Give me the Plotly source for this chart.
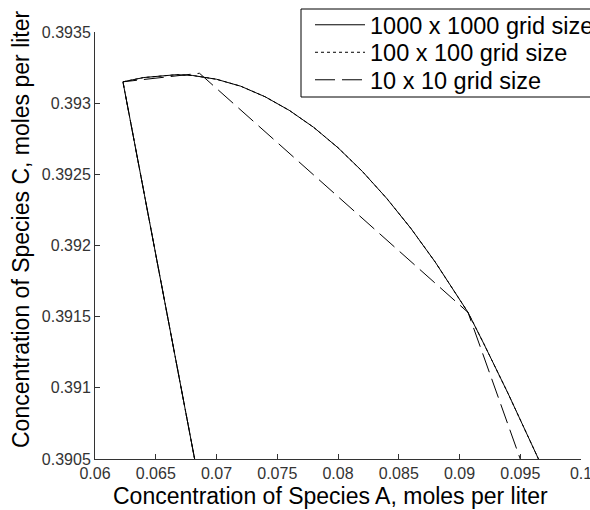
import plotly.graph_objects as go

# ---- data ----
x_fine = [0.0682, 0.0623, 0.064, 0.0667, 0.068, 0.070, 0.072, 0.074, 0.076, 0.078,
          0.080, 0.082, 0.084, 0.086, 0.088, 0.090, 0.0907, 0.092, 0.094, 0.0965]
y_fine = [0.3905, 0.39315, 0.39318, 0.39320, 0.393195, 0.393168, 0.393119, 0.393045,
          0.392949, 0.392830, 0.392687, 0.392521, 0.392332, 0.392120, 0.391884,
          0.391625, 0.39153, 0.39131, 0.39096, 0.3905]

x_mid = [0.0682, 0.0623, 0.064, 0.0667, 0.068, 0.070, 0.072, 0.074, 0.076, 0.078,
         0.080, 0.082, 0.084, 0.086, 0.088, 0.090, 0.0907, 0.092, 0.094, 0.0965]
y_mid = [0.3905, 0.39315, 0.39318, 0.39320, 0.393195, 0.393168, 0.393119, 0.393045,
         0.392949, 0.392830, 0.392687, 0.392521, 0.392332, 0.392120, 0.391884,
         0.391625, 0.39153, 0.39131, 0.39096, 0.3905]

x_coarse = [0.0682, 0.0623, 0.0686, 0.0907, 0.0950]
y_coarse = [0.3905, 0.39315, 0.39321, 0.39153, 0.3905]

series_names = ["1000 x 1000 grid size", "100 x 100 grid size", "10 x 10 grid size"]

x_tickvals = [0.06, 0.065, 0.07, 0.075, 0.08, 0.085, 0.09, 0.095, 0.1]
x_ticktext = ["0.06", "0.065", "0.07", "0.075", "0.08", "0.085", "0.09", "0.095", "0.1"]
y_tickvals = [0.3905, 0.391, 0.3915, 0.392, 0.3925, 0.393, 0.3935]
y_ticktext = ["0.3905", "0.391", "0.3915", "0.392", "0.3925", "0.393", "0.3935"]

x_title = "Concentration of Species A, moles per liter"
y_title = "Concentration of Species C, moles per liter"

FONT = "Liberation Sans, Arial, sans-serif"

L, R, T, B = 95, 9, 32, 51
W, H = 590, 510
pw, ph = W - L - R, H - T - B


def px_x(p):
    return (p - L) / pw


def px_y(p):
    return (H - B - p) / ph


fig = go.Figure()
fig.add_trace(go.Scatter(x=x_fine, y=y_fine, mode="lines", name=series_names[0],
                         legend="legend",
                         line=dict(color="black", width=1)))
fig.add_trace(go.Scatter(x=x_mid, y=y_mid, mode="lines", name=series_names[1],
                         legend="legend2",
                         line=dict(color="black", width=1, dash="3px,3px")))
fig.add_trace(go.Scatter(x=x_coarse, y=y_coarse, mode="lines", name=series_names[2],
                         legend="legend3",
                         line=dict(color="black", width=1, dash="20px,7px")))

leg_common = dict(x=px_x(310), xanchor="left", yanchor="middle",
                  borderwidth=0, bgcolor="rgba(0,0,0,0)",
                  font=dict(size=23.5, family=FONT, color="black"),
                  itemwidth=50)

fig.update_layout(
    width=W, height=H,
    margin=dict(l=L, r=R, t=T, b=B, autoexpand=False),
    paper_bgcolor="white", plot_bgcolor="white",
    font=dict(family=FONT, color="black"),
    showlegend=True,
    legend=dict(y=px_y(25), **leg_common),
    legend2=dict(y=px_y(52.5), **leg_common),
    legend3=dict(y=px_y(80), **leg_common),
    shapes=[dict(type="rect", xref="paper", yref="paper",
                 x0=px_x(301), x1=px_x(600), y0=px_y(97), y1=px_y(9),
                 line=dict(color="black", width=1), fillcolor="white", layer="above")],
    xaxis=dict(
        range=[0.06, 0.1], tickvals=x_tickvals, ticktext=x_ticktext,
        ticks="inside", ticklen=5, tickcolor="#333", showline=True, linecolor="#333",
        linewidth=1, showgrid=False, zeroline=False, mirror=False,
        ticklabeloverflow="allow",
        tickfont=dict(size=16, family=FONT, color="#333"),
    ),
    yaxis=dict(
        range=[0.3905, 0.3935], tickvals=y_tickvals, ticktext=y_ticktext,
        ticks="inside", ticklen=5, tickcolor="#333", showline=True, linecolor="#333",
        linewidth=1, showgrid=False, zeroline=False, mirror=False,
        ticklabeloverflow="allow",
        tickfont=dict(size=16, family=FONT, color="#333"),
    ),
    annotations=[
        dict(text=x_title, xref="paper", yref="paper", x=px_x(330),
             y=px_y(496), xanchor="center", yanchor="middle",
             showarrow=False, font=dict(size=23, family=FONT, color="black")),
        dict(text=y_title, xref="paper", yref="paper", x=px_x(21),
             y=px_y(229), xanchor="center", yanchor="middle", textangle=-90,
             showarrow=False, font=dict(size=23, family=FONT, color="black")),
    ],
)

fig.write_html("out.html")
